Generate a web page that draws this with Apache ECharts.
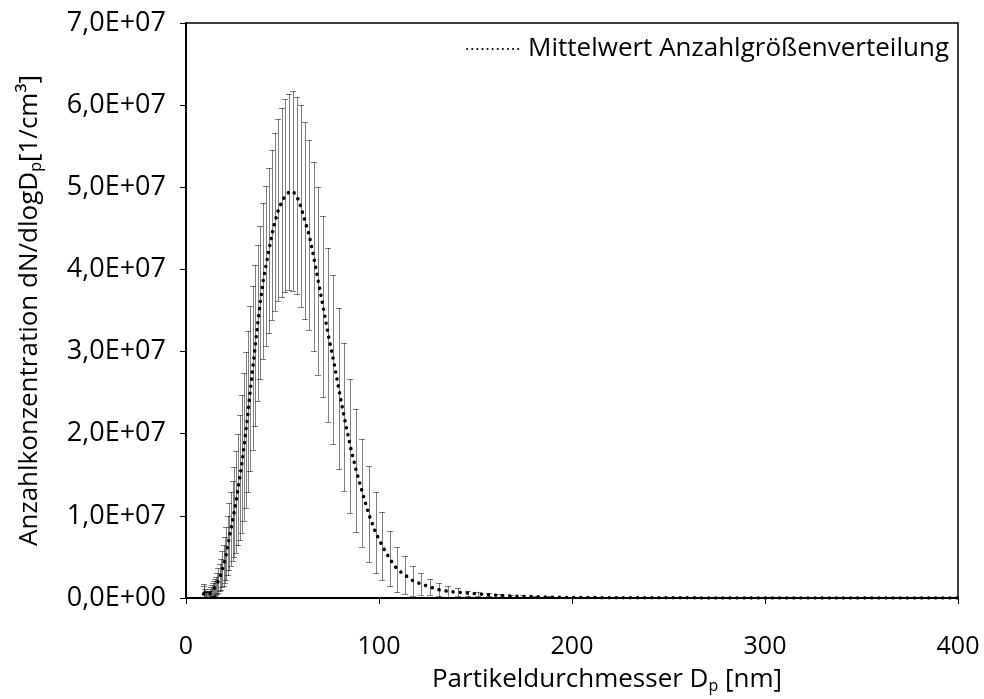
<!DOCTYPE html>
<html>
<head>
<meta charset="utf-8">
<script src="https://cdn.jsdelivr.net/npm/echarts@6/dist/echarts.min.js"></script>
<style>
html, body { margin: 0; padding: 0; background: #fff; }
#chart { width: 984px; height: 699px; }
</style>
</head>
<body>
<div id="chart"></div>
<script>
// particle diameters (nm), 64 channels per decade
var diameters = [9.14, 9.47, 9.82, 10.2, 10.6, 10.9, 11.3, 11.8, 12.2, 12.6, 13.1, 13.6, 14.1, 14.6, 15.1, 15.7,
    16.3, 16.8, 17.5, 18.1, 18.8, 19.5, 20.2, 20.9, 21.7, 22.5, 23.3, 24.1, 25.0, 25.9, 26.9, 27.9, 28.9, 30.0,
    31.1, 32.2, 33.4, 34.6, 35.9, 37.2, 38.5, 40.0, 41.4, 42.9, 44.5, 46.1, 47.8, 49.6, 51.4, 53.3, 55.2, 57.3,
    59.4, 61.5, 63.8, 66.1, 68.5, 71.0, 73.7, 76.4, 79.1, 82.0, 85.1, 88.2, 91.4, 94.7, 98.2, 101.8, 105.5, 109.4,
    113.4, 117.6, 121.9, 126.3, 131.0, 135.8, 140.7, 145.9, 151.2, 156.8, 162.5, 168.5, 174.7, 181.1, 187.7, 194.6,
    201.7, 209.1, 216.7, 224.7, 232.9, 241.4, 250.3, 259.5, 269.0, 278.8, 289.0, 299.6, 310.6, 322.0, 333.8, 346.0,
    358.7, 371.8, 385.4, 399.5];
// mean dN/dlogDp in units of 1E+07 1/cm3
var meanE7 = [0.05, 0.05, 0.045, 0.04, 0.035, 0.035, 0.035, 0.04, 0.045, 0.055, 0.07, 0.085, 0.10, 0.115, 0.13, 0.15,
    0.18, 0.21, 0.25, 0.29, 0.35, 0.40, 0.46, 0.54, 0.64, 0.75, 0.84, 0.94, 1.05, 1.17, 1.32, 1.47, 1.63, 1.84,
    2.05, 2.27, 2.55, 2.80, 3.08, 3.35, 3.60, 3.86, 4.04, 4.23, 4.42, 4.58, 4.72, 4.82, 4.90, 4.94, 4.955, 4.90,
    4.77, 4.60, 4.42, 4.16, 3.86, 3.55, 3.20, 2.90, 2.55, 2.20, 1.85, 1.55, 1.28, 1.02, 0.80, 0.63, 0.48, 0.35,
    0.28, 0.21, 0.17, 0.135, 0.10, 0.08, 0.07, 0.06, 0.05, 0.04, 0.032, 0.025, 0.02, 0.015, 0.011, 0.008,
    0.006, 0.005, 0.004, 0.003, 0.003, 0.002, 0.002, 0.002, 0.001, 0.001, 0.001, 0.001, 0.001, 0.001, 0.001, 0.001,
    0.001, 0.001, 0.001, 0.001];
// standard deviation, same units
var sdE7 = [0.12, 0.10, 0.07, 0.05, 0.04, 0.035, 0.035, 0.04, 0.045, 0.05, 0.06, 0.07, 0.08, 0.09, 0.10, 0.11,
    0.13, 0.15, 0.17, 0.19, 0.22, 0.25, 0.28, 0.32, 0.36, 0.41, 0.45, 0.49, 0.55, 0.62, 0.68, 0.76, 0.84, 0.90,
    0.95, 0.98, 1.00, 1.00, 0.98, 0.95, 0.93, 0.95, 0.97, 1.00, 1.03, 1.08, 1.11, 1.15, 1.17, 1.19, 1.215, 1.20,
    1.23, 1.20, 1.16, 1.15, 1.14, 1.10, 1.06, 1.03, 0.98, 0.90, 0.82, 0.75, 0.66, 0.585, 0.49, 0.415, 0.335, 0.275,
    0.23, 0.18, 0.13, 0.095, 0.08, 0.07, 0.05, 0.03, 0.025, 0.02, 0.018, 0.015, 0.012, 0.01, 0.008, 0.007,
    0.006, 0.005, 0.005, 0.004, 0.004, 0.004, 0.003, 0.003, 0.003, 0.003, 0.003, 0.003, 0.003, 0.003, 0.003, 0.003,
    0.003, 0.003, 0.003, 0.003];
var seriesName = 'Mittelwert Anzahlgrößenverteilung';

var FONT = 'Open Sans';
var chart = echarts.init(document.getElementById('chart'));

var meanData = [], errData = [];
for (var i = 0; i < diameters.length; i++) {
    var m = meanE7[i] * 1e7, s = sdE7[i] * 1e7;
    meanData.push([diameters[i], m]);
    errData.push([diameters[i], Math.max(m - s, 0), m + s]);
}

function yLabel(v) {
    if (v === 0) return '0,0E+00';
    return (v / 1e7).toFixed(1).replace('.', ',') + 'E+07';
}

var titleRich = {
    a: { fontFamily: FONT, fontSize: 26, color: '#000' },
    s: { fontFamily: FONT, fontSize: 16, color: '#000', padding: [12, 0, 0, 0] }
};

option = {
    animation: false,
    backgroundColor: '#fff',
    textStyle: { fontFamily: FONT, color: '#000' },
    grid: {
        left: 186, right: 26, top: 23, bottom: 101,
        show: true, borderColor: '#000', borderWidth: 1.5
    },
    legend: {
        data: [seriesName],
        right: 30, top: 31,
        itemWidth: 56, itemHeight: 10, itemGap: 6,
        itemStyle: { opacity: 0 },
        lineStyle: { width: 2, type: [0.1, 5], cap: 'round' },
        textStyle: { fontFamily: FONT, fontSize: 26, color: '#000' }
    },
    xAxis: {
        type: 'value', min: 0, max: 400, interval: 100,
        name: '{a|Partikeldurchmesser D}{s|p}{a| [nm]}',
        nameLocation: 'middle', nameGap: 68,
        nameTextStyle: { rich: titleRich, padding: [0, 0, 0, 70] },
        axisLine: { lineStyle: { color: '#000', width: 2 } },
        axisTick: { inside: false, length: 6, lineStyle: { color: '#000', width: 1 } },
        axisLabel: { margin: 36, fontFamily: FONT, fontSize: 25, color: '#000' },
        splitLine: { show: false }
    },
    yAxis: {
        type: 'value', min: 0, max: 7e7, interval: 1e7,
        name: '{a|Anzahlkonzentration dN/dlogD}{s|p}{a|[1/cm³]}',
        nameLocation: 'middle', nameGap: 142, nameRotate: 90,
        nameTextStyle: { rich: titleRich },
        axisLine: { lineStyle: { color: '#000', width: 2 } },
        axisTick: { inside: false, length: 6, lineStyle: { color: '#000', width: 1 } },
        axisLabel: { margin: 20, fontFamily: FONT, fontSize: 27, color: '#000', formatter: yLabel },
        splitLine: { show: false }
    },
    series: [{
        name: 'err',
        type: 'custom',
        clip: true,
        silent: true,
        data: errData,
        renderItem: function (params, api) {
            var x = api.value(0);
            var top = api.coord([x, api.value(2)]);
            var bot = api.coord([x, api.value(1)]);
            var px = Math.round(top[0]) + 0.5;
            var ty = Math.round(top[1]) + 0.5, by = Math.round(bot[1]) + 0.5;
            var w = 3;
            var st = { stroke: '#000', lineWidth: 1, lineDash: [1, 1] };
            return {
                type: 'group',
                children: [
                    { type: 'line', shape: { x1: px, y1: ty, x2: px, y2: by }, style: st },
                    { type: 'line', shape: { x1: px - w, y1: ty, x2: px + w, y2: ty }, style: st },
                    { type: 'line', shape: { x1: px - w, y1: by, x2: px + w, y2: by }, style: st }
                ]
            };
        }
    }, {
        name: seriesName,
        type: 'line',
        data: meanData,
        showSymbol: false,
        symbol: 'none',
        lineStyle: { color: '#000', width: 3.5, type: [0.1, 7], cap: 'round' },
        itemStyle: { color: '#000' },
        z: 5
    }]
};
chart.setOption(option);
</script>
</body>
</html>
